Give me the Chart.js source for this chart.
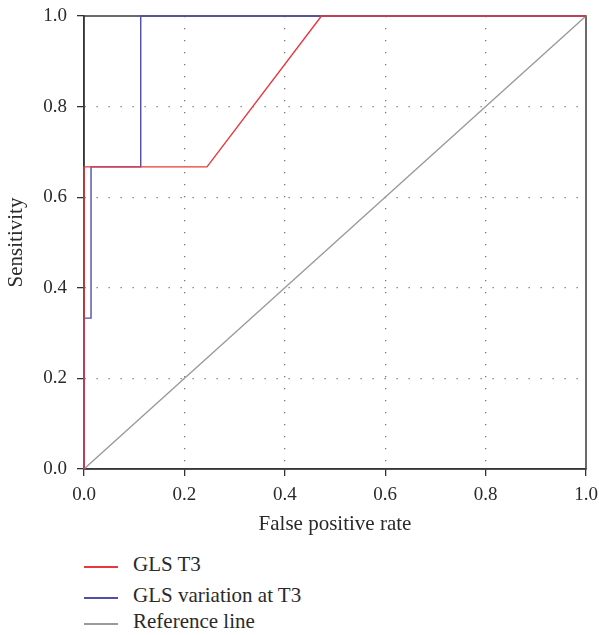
<!DOCTYPE html>
<html>
<head>
<meta charset="utf-8">
<script src="https://cdn.jsdelivr.net/npm/chart.js@4.4.0/dist/chart.umd.min.js"></script>
<style>
    body { margin: 0; background: #fff; }
    #wrap { position: relative; width: 599px; height: 635px; }
    #roc { position: absolute; left: 0; top: 0; }
    #legend { position: absolute; left: 84px; top: 550px; font-family: "Liberation Serif", "DejaVu Serif", serif; font-size: 21px; color: #2a2a2a; }
    .item { position: relative; height: 28px; line-height: 28px; white-space: nowrap; padding-left: 49px; }
    .swatch { position: absolute; left: 0; top: 16px; width: 34px; height: 1.5px; }
</style>
</head>
<body>
<div id="wrap">
    <canvas id="roc" width="599" height="545"></canvas>
    <div id="legend"></div>
</div>
<script>
// ROC curves
const glsFpr = [0, 0, 0.245, 0.473, 1];
const glsTpr = [0, 0.667, 0.667, 1, 1];
const varFpr = [0, 0, 0.014, 0.014, 0.113, 0.113, 1];
const varTpr = [0, 0.333, 0.333, 0.667, 0.667, 1, 1];
const refFpr = [0, 1];
const refTpr = [0, 1];
const tickValues = [0, 0.2, 0.4, 0.6, 0.8, 1.0];

const seriesNames = ['GLS T3', 'GLS variation at T3', 'Reference line'];
const seriesColors = ['#e8383d', '#4f4fa8', '#9a9a9a'];

const serif = '"Liberation Serif", "DejaVu Serif", serif';
const textColor = '#2a2a2a';

function toPoints(xs, ys) {
    return xs.map((x, i) => ({ x: x, y: ys[i] }));
}

// box around the plot area, drawn under the curves
const frame = {
    id: 'frame',
    beforeDatasetsDraw(chart) {
        const { ctx, chartArea: a } = chart;
        ctx.save();
        ctx.strokeStyle = '#3a3a3a';
        ctx.lineWidth = 1.5;
        ctx.strokeRect(a.left, a.top, a.right - a.left, a.bottom - a.top);
        ctx.restore();
    }
};

const gridColor = c => (c.tick && (c.tick.value === 0 || c.tick.value === 1)) ? 'rgba(0,0,0,0)' : '#777';

const curves = [toPoints(glsFpr, glsTpr), toPoints(varFpr, varTpr), toPoints(refFpr, refTpr)];
const datasets = curves.map((pts, i) => ({
    label: seriesNames[i],
    data: pts,
    borderColor: seriesColors[i],
    borderWidth: 1.4,
    pointRadius: 0,
    tension: 0,
    fill: false,
    clip: false,
    order: i + 1
}));

new Chart(document.getElementById('roc'), {
    type: 'line',
    data: { datasets: datasets },
    plugins: [frame],
    options: {
        responsive: false,
        animation: false,
        layout: { padding: { top: 16, right: 13, left: 0, bottom: 0 } },
        plugins: { legend: { display: false }, tooltip: { enabled: false } },
        scales: {
            x: {
                type: 'linear', min: 0, max: 1,
                afterBuildTicks: s => { s.ticks = tickValues.map(v => ({ value: v })); },
                afterFit: s => { s.height = 76; s.paddingLeft = 0; s.paddingRight = 0; },
                ticks: { color: textColor, font: { family: serif, size: 19 }, padding: 8, maxRotation: 0,
                    callback: v => v.toFixed(1) },
                grid: { color: gridColor, tickColor: '#333', tickLength: 7, lineWidth: 1.3 },
                border: { display: true, color: '#333', width: 1.5, dash: [1.3, 10.7] },
                title: { display: true, text: 'False positive rate', color: textColor,
                    font: { family: serif, size: 21 }, padding: { top: 0, bottom: 8 } }
            },
            y: {
                type: 'linear', min: 0, max: 1,
                afterBuildTicks: s => { s.ticks = tickValues.map(v => ({ value: v })); },
                afterFit: s => { s.width = 84; s.paddingTop = 0; s.paddingBottom = 0; },
                ticks: { color: textColor, font: { family: serif, size: 19 }, padding: 10,
                    callback: v => v.toFixed(1) },
                grid: { color: gridColor, tickColor: '#333', tickLength: 7, lineWidth: 1.3 },
                border: { display: true, color: '#333', width: 1.5, dash: [1.3, 10.7] },
                title: { display: true, text: 'Sensitivity', color: textColor,
                    font: { family: serif, size: 21 }, padding: { top: 4, bottom: 0 } }
            }
        }
    }
});

// legend below the chart, one row per series
const legend = document.getElementById('legend');
const rowHeights = [31, 26, 28];
seriesNames.forEach((name, i) => {
    const row = document.createElement('div');
    row.className = 'item';
    row.style.height = rowHeights[i] + 'px';
    const sw = document.createElement('span');
    sw.className = 'swatch';
    sw.style.background = seriesColors[i];
    row.appendChild(sw);
    row.appendChild(document.createTextNode(name));
    legend.appendChild(row);
});
</script>
</body>
</html>
